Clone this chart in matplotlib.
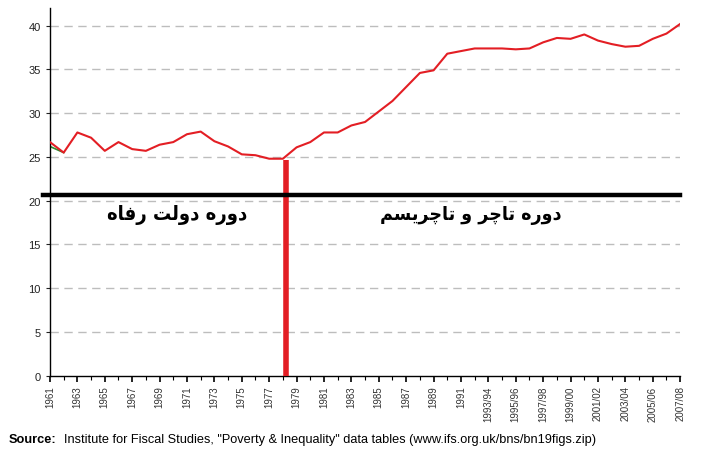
import numpy as np
import matplotlib
matplotlib.use("Agg")
import matplotlib.pyplot as plt
from matplotlib.ticker import FixedLocator

# ---------------- data ----------------
years = [str(y) for y in range(1961, 1993)] + \
        ["%d/%02d" % (y, (y + 1) % 100) for y in range(1993, 2008)]

gini = [26.7, 25.5, 27.8, 27.2, 25.7, 26.7, 25.9, 25.7, 26.4, 26.7,
        27.6, 27.9, 26.8, 26.2, 25.3, 25.2, 24.8, 24.8, 26.1, 26.7,
        27.8, 27.8, 28.6, 29.0, 30.2, 31.4, 33.0, 34.6, 34.9, 36.8,
        37.1, 37.4, 37.4, 37.4, 37.3, 37.4, 38.1, 38.6, 38.5, 39.0,
        38.3, 37.9, 37.6, 37.7, 38.5, 39.1, 40.2]
gini_alt = [26.2, 25.5]   # second series, visible only at the very start

split_pos = 17.2          # Thatcher marker (between 1978 and 1979)
split_top = 24.6
divider_y = 20.6

label_welfare = "\ufee9\ufe8e\ufed3\ufead \ufe96\ufedf\ufeed\ufea9 \ufee9\ufead\ufeed\ufea9"   # دوره دولت رفاه
label_thatcher = ("\ufee2\ufeb4\ufbfe\ufeae\ufb7c\ufe8e\ufe97 \ufeed "
                  "\ufeae\ufb7c\ufe8e\ufe97 \ufee9\ufead\ufeed\ufea9")                      # دوره تاچر و تاچریسم

# ---------------- plot ----------------
plt.rcParams['font.family'] = ['Liberation Sans', 'DejaVu Sans']

fig = plt.figure(figsize=(7.01, 4.60), dpi=100)
ax = fig.add_axes([0.0713, 0.181, 0.899, 0.799])

x = np.arange(len(years))
ax.plot(x[:len(gini_alt)], gini_alt, color='#2e8b2e', lw=1.2, zorder=2)
ax.plot(x, gini, color='#e31e24', lw=1.5, zorder=3)

ax.set_xlim(0, len(years) - 1)
ax.set_ylim(0, 42)
ax.set_yticks(np.arange(0, 41, 5))
ax.set_xticks(x[::2])
ax.set_xticklabels(years[::2], rotation=90, fontsize=7, color='#333333')
ax.xaxis.set_minor_locator(FixedLocator(x))
ax.tick_params(axis='x', which='major', length=4, width=1.2, direction='out', pad=3)
ax.tick_params(axis='x', which='minor', length=3, width=0.8, direction='out')
ax.tick_params(axis='y', length=3, labelsize=8, colors='#222222')

for v in range(5, 41, 5):
    ax.axhline(v, color='#bdbdbd', lw=1.0, ls=(0, (6, 4)), zorder=1)

for s in ['top', 'right']:
    ax.spines[s].set_visible(False)
for s in ['left', 'bottom']:
    ax.spines[s].set_linewidth(1.0)

# vertical red marker
ax.plot([split_pos, split_pos], [0, split_top], color='#e31e24', lw=4,
        solid_capstyle='butt', zorder=4)
# black divider, starting a bit left of the axis
ax.plot([-0.5, len(years) - 1], [divider_y, divider_y], color='black', lw=3.2,
        clip_on=False, zorder=5)

ax.text(9.3, 18.5, label_welfare, ha='center', va='center', fontsize=14.5,
        fontweight='bold', family='DejaVu Sans', fontstretch='condensed', zorder=6)
ax.text(30.7, 18.4, label_thatcher, ha='center', va='center', fontsize=14,
        fontweight='bold', family='DejaVu Sans', fontstretch='condensed', zorder=6)

fig.text(0.013, 0.043, "Source:", fontsize=9.2, fontweight='bold', ha='left', va='center')
fig.text(0.092, 0.043,
         'Institute for Fiscal Studies, "Poverty & Inequality" data tables (www.ifs.org.uk/bns/bn19figs.zip)',
         fontsize=9.2, ha='left', va='center')

fig.savefig("out.png", dpi=100)
